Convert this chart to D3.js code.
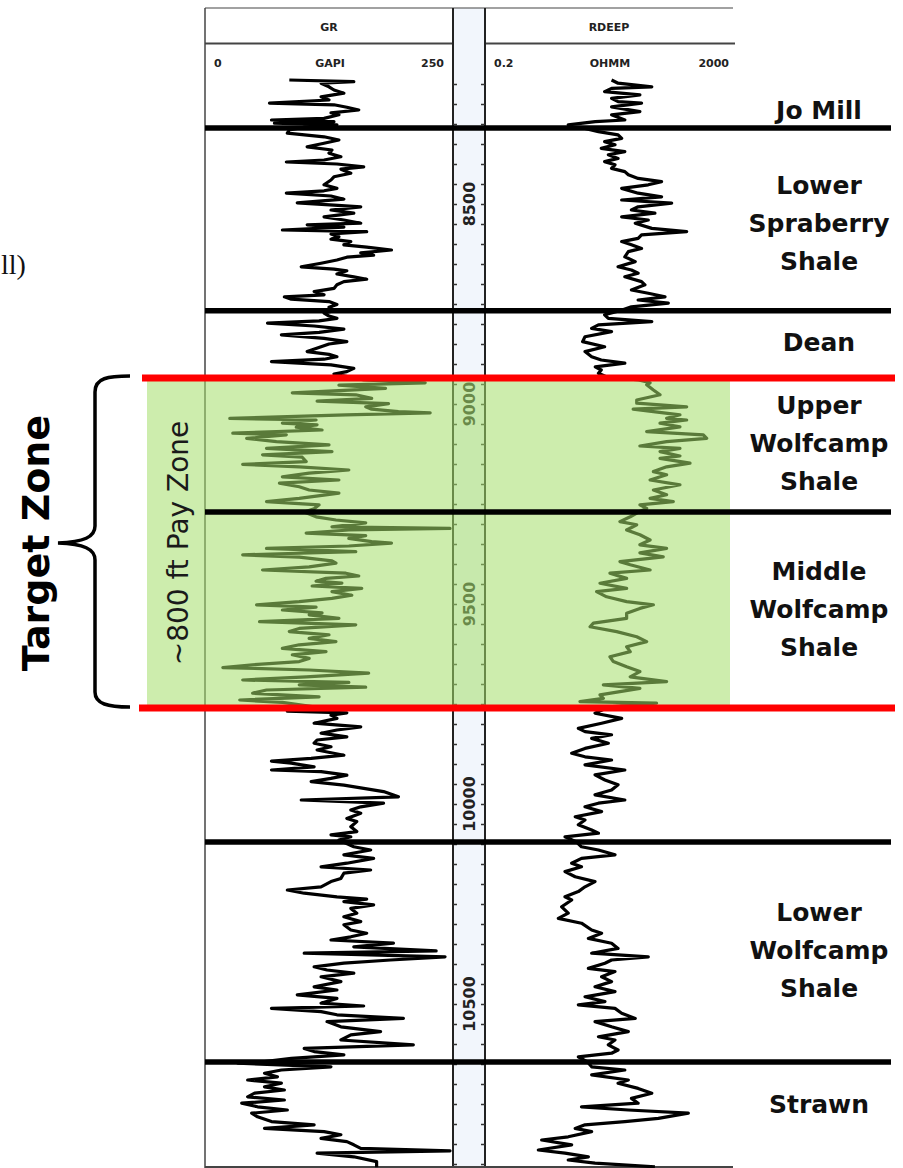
<!DOCTYPE html>
<html>
<head>
<meta charset="utf-8">
<script src="https://cdn.jsdelivr.net/npm/d3@7"></script>
<style>
  html, body { margin: 0; padding: 0; background: #fff; }
  svg { display: block; }
</style>
</head>
<body>
<div id="chart"></div>
<script>
// Gamma ray log, [depth ft, GAPI]
const grLog = [
  [8190,85],[8194,150],[8198,117],[8207,125],[8215,130],[8223,140],[8232,117],[8240,125],[8248,65],[8252,130],
  [8258,143],[8265,155],[8272,127],[8277,135],[8286,120],[8290,67],[8294,130],[8298,70],[8302,133],[8308,100],
  [8315,85],[8323,83],[8332,120],[8340,135],[8348,120],[8357,103],[8365,128],[8373,125],[8382,137],[8390,120],
  [8395,82],[8400,133],[8407,160],[8413,137],[8423,147],[8432,130],[8440,127],[8452,120],[8461,133],[8467,120],
  [8473,82],[8480,127],[8488,140],[8497,93],[8503,130],[8507,157],[8515,127],[8523,150],[8532,120],[8540,140],
  [8548,157],[8552,103],[8558,140],[8565,78],[8569,163],[8575,127],[8582,135],[8588,127],[8594,147],[8602,140],
  [8608,163],[8615,188],[8622,157],[8628,170],[8633,143],[8640,133],[8648,117],[8657,97],[8663,130],[8667,143],
  [8675,133],[8682,150],[8688,163],[8694,140],[8702,133],[8711,130],[8719,110],[8727,120],[8732,80],[8738,87],
  [8744,125],[8751,133],[8758,125],[8767,130],[8773,120],[8780,125],[8786,133],[8792,115],[8798,63],[8805,110],
  [8813,140],[8821,115],[8827,77],[8836,120],[8844,143],[8850,125],[8857,117],[8869,103],[8876,125],[8882,133],
  [8888,120],[8894,67],[8902,127],[8911,150],[8919,143],[8925,130],[8932,145],
  [8940,160],[8947,222],[8953,135],[8961,182],[8972,88],[8977,152],[8986,168],[8993,113],[8999,185],[9007,162],
  [9013,168],[9019,195],[9022,227],[9027,142],[9036,25],[9040,112],[9048,78],[9052,113],[9058,92],[9065,118],
  [9073,28],[9077,82],[9086,42],[9094,72],[9102,125],[9111,62],[9119,128],[9127,58],[9133,98],[9144,102],
  [9151,38],[9157,95],[9165,145],[9173,105],[9182,78],[9190,135],[9198,75],[9207,95],[9215,105],[9223,135],
  [9236,95],[9244,62],[9252,115],[9262,110],[9270,100],[9282,112],[9290,132],[9297,162],[9307,128],[9311,247],
  [9315,145],[9323,102],[9329,162],[9336,145],[9344,168],[9348,188],[9355,145],[9361,62],[9369,152],[9377,38],
  [9383,95],[9392,128],[9398,132],[9407,105],[9415,58],[9423,142],[9430,155],[9436,122],[9443,112],[9448,138],
  [9455,108],[9461,158],[9469,128],[9478,148],[9486,128],[9494,95],[9502,52],[9508,112],[9515,78],[9522,118],
  [9527,105],[9536,135],[9544,55],[9552,152],[9561,95],[9569,85],[9577,125],[9586,105],[9594,132],[9602,95],
  [9611,78],[9619,122],[9627,88],[9636,105],[9644,95],[9652,48],[9659,18],[9665,105],[9673,165],[9682,102],
  [9690,38],[9696,145],[9702,95],[9708,162],[9715,62],[9723,48],[9732,115],[9740,35],[9746,78],[9757,110],
  [9768,83],[9772,143],[9778,127],[9786,133],[9798,110],[9807,157],[9815,133],[9823,117],[9832,143],[9840,113],
  [9848,110],[9857,127],[9865,113],[9878,140],[9886,107],[9893,67],[9898,87],[9907,110],[9915,67],[9919,117],
  [9928,143],[9936,127],[9944,107],[9953,140],[9961,160],[9969,180],[9982,195],[9990,97],[9998,180],[10007,157],
  [10015,147],[10023,157],[10036,143],[10044,153],[10057,147],[10069,153],[10077,127],[10082,147],[10090,135],[10107,150],
  [10115,167],[10127,140],[10136,170],[10148,143],[10157,117],[10165,167],[10173,140],[10186,137],[10194,127],[10207,117],
  [10215,83],[10223,100],[10232,133],[10238,163],[10244,140],[10252,170],[10261,147],[10273,153],[10282,140],[10294,157],
  [10302,140],[10315,147],[10323,163],[10332,147],[10340,127],[10348,190],[10357,150],[10367,233],[10373,100],[10382,242],
  [10390,187],[10398,140],[10407,110],[10415,123],[10423,150],[10432,117],[10444,137],[10457,110],[10465,133],[10477,93],
  [10486,133],[10498,117],[10505,160],[10511,67],[10519,117],[10527,133],[10536,200],[10544,123],[10557,137],[10569,177],
  [10577,147],[10590,137],[10602,210],[10611,100],[10619,110],[10627,140],[10636,87],[10644,60],[10648,33],[10657,127],
  [10665,77],[10673,60],[10682,73],[10690,43],[10698,77],[10707,60],[10715,80],[10723,50],[10732,43],[10740,80],
  [10748,37],[10757,53],[10765,83],[10773,47],[10782,53],[10794,67],[10802,110],[10811,60],[10819,120],[10827,137],
  [10836,117],[10844,143],[10852,150],[10861,157],[10867,247],[10873,113],[10882,150],[10894,173],[10908,173]
];

// Deep resistivity log, [depth ft, ohm-m]
const rdeepLog = [
  [8190,22],[8198,28],[8207,98],[8211,22],[8219,17],[8227,63],[8236,22],[8244,28],[8248,67],[8257,22],
  [8269,63],[8277,22],[8290,36],[8294,12],[8302,4.4],[8311,8.2],[8319,13.5],[8327,28],[8336,32],[8344,17],
  [8352,25],[8361,15],[8369,36],[8377,19.5],[8386,28],[8394,17],[8402,25],[8411,22],[8419,36],[8427,41],
  [8436,59],[8444,141],[8452,86],[8461,32],[8473,59],[8482,141],[8490,32],[8498,205],[8507,59],[8515,46],
  [8523,110],[8532,32],[8540,86],[8548,53],[8561,98],[8569,358],[8577,67],[8586,59],[8594,32],[8602,46],
  [8611,67],[8619,41],[8632,36],[8644,53],[8657,28],[8665,46],[8673,59],[8682,36],[8694,67],[8702,76],
  [8715,46],[8723,86],[8732,160],[8740,59],[8748,181],[8757,46],[8767,30],[8777,17],[8786,19.5],[8794,98],
  [8802,13.5],[8811,10.5],[8819,22],[8832,8.2],[8844,7.5],[8857,17],[8869,8.2],[8882,10.5],[8890,15],[8898,36],
  [8907,12],[8915,15],[8923,13.5],[8932,18],
  [8940,60],[8947,92],[8952,81],[8965,104],[8977,133],[8990,56],[8998,56],[9007,358],[9013,49],[9019,104],
  [9027,279],[9036,170],[9040,358],[9048,133],[9057,279],[9069,81],[9077,664],[9086,752],[9094,170],[9105,63],
  [9111,279],[9119,133],[9130,279],[9136,133],[9148,405],[9157,170],[9169,104],[9177,170],[9190,92],[9202,279],
  [9215,104],[9227,170],[9236,92],[9244,218],[9252,63],[9261,81],[9270,60],[9282,44],[9294,30],[9302,56],
  [9315,38.5],[9327,63],[9340,92],[9352,63],[9361,170],[9372,63],[9382,150],[9394,30],[9402,44],[9415,92],
  [9423,20.7],[9436,38.5],[9448,14.3],[9461,38.5],[9469,12.6],[9482,18.3],[9494,38.5],[9502,104],[9511,63],[9523,38.5],
  [9536,38.5],[9548,11.2],[9557,9.9],[9569,26.6],[9582,56],[9594,81],[9607,38.5],[9619,44],[9632,20.7],[9644,23.5],
  [9657,38.5],[9669,63],[9682,44],[9694,170],[9702,16.2],[9711,63],[9719,30],[9727,14.3],[9736,16.2],[9744,6.8],
  [9748,117],[9757,20],
  [9773,11.9],[9786,32],[9798,15.2],[9811,6.4],[9819,8.2],[9827,22],[9836,10.5],[9848,19.5],[9861,8.2],[9873,5],
  [9882,8.2],[9890,22],[9902,8.2],[9915,36],[9927,11.9],[9940,17.2],[9952,28],[9965,22],[9977,11.9],[9990,36],
  [9998,13.5],[10007,8.2],[10019,15.2],[10032,5.7],[10040,8.2],[10052,6.4],[10065,10.5],[10073,13.5],[10082,3.9],[10095,6],
  [10107,7.2],[10115,13.5],[10127,25],[10136,7.2],[10148,5],[10157,7.2],[10169,3.9],[10182,5.7],[10194,11.9],[10207,8.2],
  [10219,6.4],[10232,3.9],[10240,5],[10257,3.45],[10273,4.4],[10286,3.05],[10298,7.2],[10315,10.5],[10323,15.2],[10336,9.3],
  [10348,22],[10361,28],[10373,10.5],[10382,86],[10390,22],[10398,17.2],[10411,9.3],[10419,25],[10432,15.2],[10444,22],
  [10457,11.9],[10469,25],[10482,8.2],[10494,17.2],[10502,6.4],[10511,25],[10523,32],[10536,53],[10544,11.9],[10557,22],
  [10569,41],[10582,13.5],[10590,25],[10602,19.5],[10615,28],[10623,22],[10632,6.4],[10645,9],[10657,10.5],[10665,36],
  [10677,10.5],[10690,41],[10698,28],[10711,59],[10723,98],[10736,46],[10748,59],[10757,7.2],[10765,41],[10773,381],
  [10786,125],[10794,36],[10802,8.2],[10811,5.7],[10819,10.5],[10832,4.4],[10840,1.64],[10852,5],[10865,1.45],[10873,3.9],
  [10882,9.3],[10890,4.4],[10898,11.9],[10907,110]
];

const depthLabels = [8500, 9000, 9500, 10000, 10500];
const formationTops = [8310, 8767, 9270, 10095, 10645];
const payZone = [8935, 9760];
const zoneNames = [
  ["Jo Mill"],
  ["Lower", "Spraberry", "Shale"],
  ["Dean"],
  ["Upper", "Wolfcamp", "Shale"],
  ["Middle", "Wolfcamp", "Shale"],
  ["Lower", "Wolfcamp", "Shale"],
  ["Strawn"]
];
const zoneLabelDepths = [8265, 8547, 8845, 9097, 9512, 10365, 10750];

const W = 903, H = 1168;
const svg = d3.select('#chart').append('svg')
  .attr('width', W).attr('height', H)
  .style('font-family', '"DejaVu Sans", Verdana, sans-serif');

// scales
const y = d3.scaleLinear().domain([8500, 10500]).range([204, 1004]);
const xGR = d3.scaleLinear().domain([0, 250]).range([205, 453]);
const xRD = d3.scaleLog().domain([0.2, 2000]).range([485, 733]);

// depth track
svg.append('rect').attr('x', 453).attr('y', 8).attr('width', 32).attr('height', H - 8)
  .attr('fill', '#f2f6fc');

// header frame
const hdr = svg.append('g').attr('stroke', '#444').attr('fill', 'none');
hdr.append('line').attr('x1', 205).attr('x2', 733).attr('y1', 8).attr('y2', 8).attr('stroke-width', 1.2);
hdr.append('line').attr('x1', 205).attr('x2', 453).attr('y1', 43.5).attr('y2', 43.5).attr('stroke-width', 2);
hdr.append('line').attr('x1', 485).attr('x2', 735).attr('y1', 43.5).attr('y2', 43.5).attr('stroke-width', 2);
hdr.append('line').attr('x1', 205).attr('x2', 205).attr('y1', 8).attr('y2', H).attr('stroke-width', 1.5);
hdr.append('line').attr('x1', 453).attr('x2', 453).attr('y1', 8).attr('y2', H).attr('stroke', '#222').attr('stroke-width', 2);
hdr.append('line').attr('x1', 485).attr('x2', 485).attr('y1', 8).attr('y2', H).attr('stroke', '#222').attr('stroke-width', 2);
hdr.append('line').attr('x1', 205).attr('x2', 733).attr('y1', H - 1).attr('y2', H - 1).attr('stroke-width', 2);

const hText = svg.append('g').attr('font-size', 11).attr('font-weight', 'bold').attr('fill', '#222');
hText.append('text').attr('x', 329).attr('y', 31).attr('text-anchor', 'middle').text('GR');
hText.append('text').attr('x', 609).attr('y', 31).attr('text-anchor', 'middle').text('RDEEP');
hText.append('text').attr('x', 214).attr('y', 67).text('0');
hText.append('text').attr('x', 330).attr('y', 67).attr('text-anchor', 'middle').text('GAPI');
hText.append('text').attr('x', 444).attr('y', 67).attr('text-anchor', 'end').text('250');
hText.append('text').attr('x', 494).attr('y', 67).text('0.2');
hText.append('text').attr('x', 610).attr('y', 67).attr('text-anchor', 'middle').text('OHMM');
hText.append('text').attr('x', 729).attr('y', 67).attr('text-anchor', 'end').text('2000');

// depth ticks every 50 ft
const tickVals = d3.range(8200, 10901, 50);
svg.append('g').attr('transform', 'translate(453,0)')
  .call(d3.axisRight(y).tickValues(tickVals).tickSize(4).tickFormat(''))
  .call(g => g.select('.domain').remove())
  .selectAll('line').attr('stroke', '#333').attr('stroke-width', 1.5);
svg.append('g').attr('transform', 'translate(485,0)')
  .call(d3.axisLeft(y).tickValues(tickVals).tickSize(4).tickFormat(''))
  .call(g => g.select('.domain').remove())
  .selectAll('line').attr('stroke', '#333').attr('stroke-width', 1.5);

svg.append('g').selectAll('text').data(depthLabels).enter().append('text')
  .attr('transform', d => `translate(469,${y(d)}) rotate(-90)`)
  .attr('text-anchor', 'middle').attr('dy', '0.36em')
  .attr('font-size', 16).attr('font-weight', 'bold').attr('fill', '#222')
  .text(d => d);

// curves
const grLine = d3.line().x(d => xGR(d[1])).y(d => y(d[0]));
const rdLine = d3.line().x(d => xRD(d[1])).y(d => y(d[0]));
svg.append('path').datum(grLog).attr('d', grLine)
  .attr('fill', 'none').attr('stroke', '#000').attr('stroke-width', 3.2).attr('stroke-linejoin', 'round');
svg.append('path').datum(rdeepLog).attr('d', rdLine)
  .attr('fill', 'none').attr('stroke', '#000').attr('stroke-width', 3.2).attr('stroke-linejoin', 'round');

// pay zone overlay
svg.append('rect')
  .attr('x', 147).attr('width', 730 - 147)
  .attr('y', y(payZone[0])).attr('height', y(payZone[1]) - y(payZone[0]))
  .attr('fill', '#a4de69').attr('fill-opacity', 0.55);

// formation tops
svg.append('g').selectAll('line').data(formationTops).enter().append('line')
  .attr('x1', 205).attr('x2', 891)
  .attr('y1', d => y(d)).attr('y2', d => y(d))
  .attr('stroke', '#000').attr('stroke-width', 5.5);

svg.append('g').selectAll('line').data(payZone).enter().append('line')
  .attr('x1', (d, i) => i ? 139 : 142).attr('x2', 895)
  .attr('y1', d => y(d)).attr('y2', d => y(d))
  .attr('stroke', '#ff0000').attr('stroke-width', 7);

// zone names
const zl = svg.append('g').attr('font-size', 25).attr('font-weight', 'bold').attr('fill', '#111')
  .attr('text-anchor', 'middle');
zoneNames.forEach((lines, i) => {
  const cy = y(zoneLabelDepths[i]);
  lines.forEach((s, j) => {
    zl.append('text').attr('x', 819)
      .attr('y', cy + (j - (lines.length - 1) / 2) * 38)
      .attr('dy', '0.36em').text(s);
  });
});

// brace and side labels
svg.append('path')
  .attr('d', 'M130,376 C108,376 95,378 95,392 L95,526 C95,537 84,542 58,543 C84,544 95,549 95,560 L95,692 C95,704 108,707 130,707')
  .attr('fill', 'none').attr('stroke', '#000').attr('stroke-width', 3.5);

svg.append('text')
  .attr('transform', `translate(35,${y((payZone[0] + payZone[1]) / 2)}) rotate(-90)`)
  .attr('text-anchor', 'middle').attr('dy', '0.36em')
  .attr('font-size', 38).attr('font-weight', 'bold').attr('fill', '#000')
  .text('Target Zone');

svg.append('text')
  .attr('transform', `translate(178,${y((payZone[0] + payZone[1]) / 2)}) rotate(-90)`)
  .attr('text-anchor', 'middle').attr('dy', '0.36em')
  .attr('font-size', 28).attr('fill', '#1a1a1a')
  .text('~800 ft Pay Zone');

svg.append('text').attr('x', 1).attr('y', 274)
  .attr('font-family', '"Liberation Serif", "Times New Roman", serif').attr('font-size', 28)
  .attr('fill', '#111').text('ll)');
</script>
</body>
</html>
